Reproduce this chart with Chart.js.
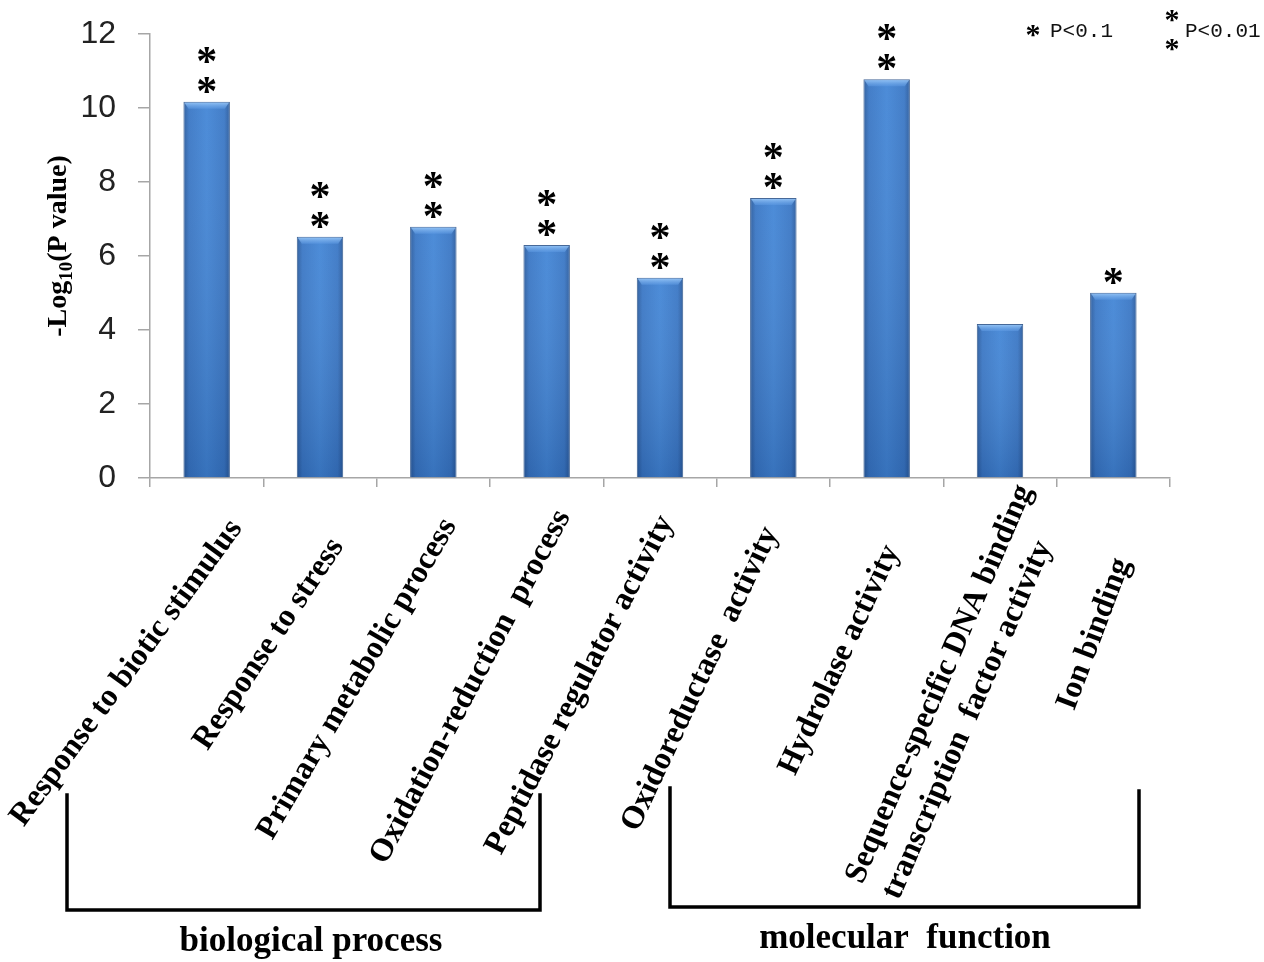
<!DOCTYPE html>
<html><head><meta charset="utf-8">
<script src="https://cdn.jsdelivr.net/npm/chart.js@4.4.1/dist/chart.umd.min.js"></script>
<style>html,body{margin:0;padding:0;background:#fff;}#wrap{width:1264px;height:962px;position:relative;}</style>
</head><body><div id="wrap"><canvas id="c" width="1264" height="962"></canvas></div>
<script>
// ---- data ----
const categories = [
  'Response to biotic stimulus',
  'Response to stress',
  'Primary metabolic process',
  'Oxidation-reduction  process',
  'Peptidase regulator activity',
  'Oxidoreductase  activity',
  'Hydrolase activity',
  ['Sequence-specific DNA binding', 'transcription  factor activity'],
  'Ion binding'
];
const values = [10.17, 6.52, 6.79, 6.30, 5.41, 7.57, 10.78, 4.16, 5.01];
const significance = [2, 2, 2, 2, 2, 2, 2, 0, 1];   // number of asterisks
const yTicks = [0, 2, 4, 6, 8, 10, 12];
const groupNames = ['biological process', 'molecular  function'];
const legendTexts = ['P<0.1', 'P<0.01'];
const legendStars = [1, 2];
const yTitleParts = ['-Log', '10', '(P value)'];

// ---- layout / style config (not data) ----
const labelLayout = [
  {dx: -80, y: 673, a: 53.8}, {dx: -51, y: 644, a: 56.3}, {dx: -76, y: 679, a: 59.7},
  {dx: -76, y: 687, a: 62.1}, {dx: -80, y: 685, a: 62.7}, {dx: -73, y: 679, a: 64.9},
  {dx: -47, y: 660, a: 65.2}, {dx: -42, y: 692, a: 66.7}, {dx: -19, y: 634, a: 69.3}
];
const brackets = [
  {x1: 67, x2: 540, top1: 795, top2: 795, bottom: 910, labelX: 311, labelY: 951},
  {x1: 670, x2: 1139, top1: 788, top2: 791, bottom: 907, labelX: 905, labelY: 948}
];
const BAR_PCT = 0.41;

function drawStar(c, x, cy, size) {
  c.font = 'bold ' + size + 'px "Liberation Serif"';
  c.textAlign = 'center';
  c.textBaseline = 'alphabetic';
  const m = c.measureText('*');
  const a = m.actualBoundingBoxAscent, d = m.actualBoundingBoxDescent;
  c.fillText('*', x, cy - (d - a) / 2);
}

const decor = {
  id: 'decor',
  beforeDraw(chart) {
    const c = chart.ctx; c.save(); c.fillStyle = '#fff'; c.fillRect(0, 0, chart.width, chart.height); c.restore();
  },
  afterDatasetsDraw(chart) {
    const c = chart.ctx; const meta = chart.getDatasetMeta(0);
    c.save();
    meta.data.forEach(bar => {
      const p = bar.getProps(['x', 'y', 'base', 'width'], true);
      const l = p.x - p.width / 2, r = p.x + p.width / 2;
      const g = c.createLinearGradient(0, p.y, 0, p.base);
      g.addColorStop(0, 'rgba(255,255,255,0.05)');
      g.addColorStop(1, 'rgba(0,25,70,0.18)');
      c.fillStyle = g; c.fillRect(l + 1, p.y, p.width - 2, p.base - p.y);
      const b = 7;
      const gb = c.createLinearGradient(0, p.y, 0, p.y + b);
      gb.addColorStop(0, 'rgba(160,205,250,0.95)');
      gb.addColorStop(1, 'rgba(95,155,228,0.5)');
      c.beginPath(); c.moveTo(l + 1, p.y + 1); c.lineTo(r - 1, p.y + 1); c.lineTo(r - 5, p.y + b); c.lineTo(l + 5, p.y + b); c.closePath();
      c.fillStyle = gb; c.fill();
    });
    c.restore();
  },
  afterDraw(chart) {
    const c = chart.ctx; const xs = chart.scales.x;
    const meta = chart.getDatasetMeta(0);
    c.save();
    c.fillStyle = '#000';
    // significance asterisks
    meta.data.forEach((bar, i) => {
      for (let k = 0; k < significance[i]; k++) {
        drawStar(c, bar.x, bar.y - 17 - 30 * k, 42);
      }
    });
    // category labels
    categories.forEach((lab, i) => {
      const L = labelLayout[i];
      const cx = xs.getPixelForValue(i) + L.dx;
      c.save();
      c.translate(cx, L.y);
      c.rotate(-L.a * Math.PI / 180);
      c.font = 'bold 32px "Liberation Serif"';
      c.textBaseline = 'middle';
      c.fillStyle = '#000';
      if (Array.isArray(lab)) {
        const maxW = Math.max(...lab.map(s => c.measureText(s).width));
        const lh = 40;
        c.textAlign = 'left';
        lab.forEach((s, j) => c.fillText(s, -maxW / 2, (j - (lab.length - 1) / 2) * lh));
      } else {
        c.textAlign = 'center';
        c.fillText(lab, 0, 0);
      }
      c.restore();
    });
    // brackets and group labels
    c.strokeStyle = '#000'; c.lineWidth = 3.5; c.lineCap = 'square';
    brackets.forEach((b, i) => {
      c.beginPath();
      c.moveTo(b.x1, b.top1); c.lineTo(b.x1, b.bottom); c.lineTo(b.x2, b.bottom); c.lineTo(b.x2, b.top2);
      c.stroke();
      c.font = 'bold 35px "Liberation Serif"';
      c.textAlign = 'center'; c.textBaseline = 'alphabetic';
      c.fillText(groupNames[i], b.labelX, b.labelY);
    });
    // legend
    const legPos = [{sx: 1033, tx: 1050}, {sx: 1172, tx: 1185}];
    legendTexts.forEach((t, i) => {
      const n = legendStars[i];
      if (n === 1) drawStar(c, legPos[i].sx, 31, 30);
      else { drawStar(c, legPos[i].sx, 16, 30); drawStar(c, legPos[i].sx, 45, 30); }
      c.font = '21px "Liberation Mono"';
      c.textAlign = 'left'; c.textBaseline = 'middle';
      c.fillStyle = '#111';
      c.fillText(t, legPos[i].tx, 31);
      c.fillStyle = '#000';
    });
    // y-axis title with subscript
    c.save();
    c.translate(57, 246);
    c.rotate(-Math.PI / 2);
    const fMain = 'bold 28px "Liberation Serif"', fSub = 'bold 19px "Liberation Serif"';
    c.font = fMain; const w1 = c.measureText(yTitleParts[0]).width; const w3 = c.measureText(yTitleParts[2]).width;
    c.font = fSub; const w2 = c.measureText(yTitleParts[1]).width;
    let x0 = -(w1 + w2 + w3) / 2;
    c.textAlign = 'left'; c.textBaseline = 'alphabetic';
    c.font = fMain; c.fillText(yTitleParts[0], x0, 9); x0 += w1;
    c.font = fSub; c.fillText(yTitleParts[1], x0, 15); x0 += w2;
    c.font = fMain; c.fillText(yTitleParts[2], x0, 9);
    c.restore();
    c.restore();
  }
};

function barFill(ctx) {
  const chart = ctx.chart;
  const xs = chart.scales.x;
  if (!chart.chartArea || !xs) return '#3f7fcf';
  const x = xs.getPixelForValue(ctx.dataIndex);
  const half = (xs.width / categories.length) * BAR_PCT / 2;
  const g = chart.ctx.createLinearGradient(x - half, 0, x + half, 0);
  g.addColorStop(0, '#2a5a9b');
  g.addColorStop(0.12, '#3a77c5');
  g.addColorStop(0.5, '#4386d6');
  g.addColorStop(0.88, '#3a77c5');
  g.addColorStop(1, '#2a5a9b');
  return g;
}

new Chart(document.getElementById('c'), {
  type: 'bar',
  data: {
    labels: categories,
    datasets: [{
      data: values,
      backgroundColor: barFill,
      borderColor: 'rgba(40,80,135,0.9)',
      borderWidth: 1,
      barPercentage: BAR_PCT,
      categoryPercentage: 1.0
    }]
  },
  options: {
    responsive: false,
    animation: false,
    devicePixelRatio: 1,
    layout: {padding: {top: 34, right: 94, left: 0, bottom: 0}},
    plugins: {legend: {display: false}, tooltip: {enabled: false}, title: {display: false}},
    scales: {
      x: {
        grid: {display: true, drawOnChartArea: false, drawTicks: true, tickLength: 9, color: '#a6a6a6', lineWidth: 1.5},
        border: {display: true, color: '#a6a6a6', width: 1.5},
        ticks: {display: false},
        afterFit(s) { s.height = 962 - 478; s.paddingLeft = 0; s.paddingRight = 0; }
      },
      y: {
        min: 0, max: 12,
        afterBuildTicks(s) { s.ticks = yTicks.map(v => ({value: v})); },
        grid: {drawOnChartArea: false, drawTicks: true, tickLength: 12, color: '#a6a6a6', lineWidth: 1.5},
        border: {display: true, color: '#a6a6a6', width: 1.5},
        ticks: {padding: 22, color: '#222', font: {family: 'Liberation Sans', size: 32}},
        afterFit(s) { s.width = 150; s.paddingTop = 0; s.paddingBottom = 0; }
      }
    }
  },
  plugins: [decor]
});
</script></body></html>
